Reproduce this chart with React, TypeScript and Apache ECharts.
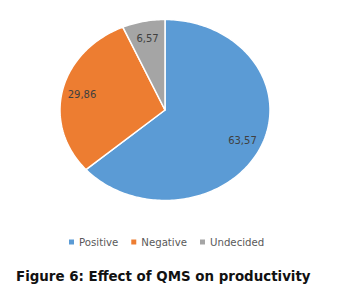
import React, { useEffect, useRef } from "react";
import * as echarts from "echarts";

const categories = ["Positive", "Negative", "Undecided"];
const values = [63.57, 29.86, 6.57];
const colors = ["#5B9BD5", "#ED7D31", "#A5A5A5"];
const titleText = "Figure 6: Effect of QMS on productivity";

const CX = 165;
const CY = 110;
const RX = 105;
const RY = 90.5;
const LABEL_R = 0.81;

function fmt(v: number) {
  return v.toFixed(2).replace(".", ",");
}

export default function App() {
  const ref = useRef<HTMLDivElement>(null);
  useEffect(() => {
    document.body.style.margin = "0";
    const chart = echarts.init(ref.current!, null, { renderer: "svg" });
    const total = values.reduce((a, b) => a + b, 0);
    const series = categories.map((name, i) => ({
      type: "custom",
      name,
      coordinateSystem: "none",
      data: [[values[i]]],
      itemStyle: { color: colors[i] },
      renderItem: (params: any, api: any) => {
        const before = values.slice(0, i).reduce((a, b) => a + b, 0);
        const v = api.value(0);
        const a0 = Math.PI / 2 - (before / total) * Math.PI * 2;
        const a1 = Math.PI / 2 - ((before + v) / total) * Math.PI * 2;
        const n = Math.max(8, Math.ceil(Math.abs(a1 - a0) / 0.02));
        const pts: number[][] = [[CX, CY]];
        for (let k = 0; k <= n; k++) {
          const a = a0 + ((a1 - a0) * k) / n;
          pts.push([CX + RX * Math.cos(a), CY - RY * Math.sin(a)]);
        }
        const am = (a0 + a1) / 2;
        return {
          type: "group",
          children: [
            {
              type: "polygon",
              shape: { points: pts },
              style: { fill: colors[i], stroke: "#ffffff", lineWidth: 1.5, lineJoin: "round" },
            },
            {
              type: "text",
              x: CX + RX * LABEL_R * Math.cos(am),
              y: CY - RY * LABEL_R * Math.sin(am),
              style: {
                text: fmt(v),
                fill: "#404040",
                font: "10px 'DejaVu Sans'",
                align: "center",
                verticalAlign: "middle",
              },
              z2: 10,
            },
          ],
        };
      },
    }));
    chart.setOption({
      animation: false,
      backgroundColor: "#ffffff",
      title: {
        text: titleText,
        left: 11,
        top: 265,
        textStyle: {
          fontFamily: "DejaVu Sans",
          fontWeight: "bold",
          fontSize: 13.4,
          color: "#111111",
        },
      },
      legend: {
        data: categories,
        left: 64,
        top: 232,
        itemWidth: 5,
        itemHeight: 5,
        itemGap: 13,
        icon: "rect",
        textStyle: { fontFamily: "DejaVu Sans", fontSize: 10.2, color: "#595959" },
        selectedMode: false,
      },
      series,
    });
    return () => chart.dispose();
  }, []);
  return (
    <div
      ref={ref}
      style={{ position: "fixed", left: 0, top: 0, width: 353, height: 290 }}
    />
  );
}
